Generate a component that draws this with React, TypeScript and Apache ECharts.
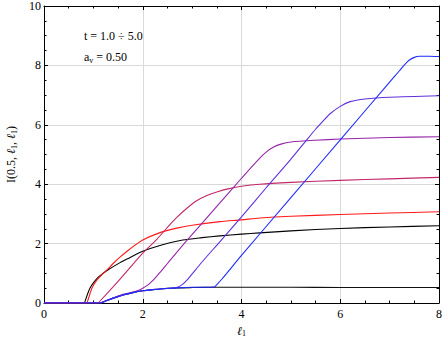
import React, { useEffect, useRef } from "react";
import * as echarts from "echarts";

type Pt = [number, number];

const xTicks = { min: 0, max: 8, interval: 2 };
const yTicks = { min: 0, max: 10, interval: 2 };

const blackLower: Pt[] = [
  [0, 0], [1.15, 0], [1.16, 0], [1.3, 0.1], [1.45, 0.19], [1.6, 0.27], [1.8, 0.35], [2.0, 0.41],
  [2.2, 0.45], [2.4, 0.48], [2.7, 0.51], [3.0, 0.52], [3.5, 0.53], [4, 0.53], [5, 0.53],
  [6, 0.52], [7, 0.52], [8, 0.52],
];
const blackUpper: Pt[] = [
  [0, 0], [0.82, 0], [0.83, 0], [0.86, 0.2], [0.9, 0.38], [0.93, 0.5], [1.0, 0.68], [1.1, 0.87],
  [1.2, 1.0], [1.3, 1.12], [1.54, 1.36], [1.68, 1.48], [2.0, 1.74], [2.4, 1.96], [2.81, 2.12],
  [3.2, 2.2], [3.56, 2.26], [4.0, 2.32], [4.37, 2.36], [5, 2.43], [6, 2.51], [7, 2.56], [8, 2.6],
];
const red: Pt[] = [
  [0, 0], [0.87, 0], [0.88, 0], [0.92, 0.25], [0.97, 0.5], [1.07, 0.77], [1.17, 0.95],
  [1.27, 1.11], [1.4, 1.33], [1.55, 1.56], [1.74, 1.82], [2.0, 2.12], [2.35, 2.37],
  [2.69, 2.52], [3.0, 2.62], [3.56, 2.74], [4.0, 2.8], [4.37, 2.86], [5, 2.92], [6, 2.98],
  [7, 3.03], [8, 3.07],
];
const crimson: Pt[] = [
  [0, 0], [1.09, 0], [1.1, 0], [1.5, 0.73], [2.0, 1.68], [2.29, 2.15], [2.5, 2.55], [2.7, 2.9],
  [2.9, 3.2], [3.1, 3.45], [3.3, 3.62], [3.5, 3.74], [3.75, 3.85], [4.0, 3.93], [4.37, 4.0],
  [5, 4.06], [6, 4.13], [7, 4.18], [8, 4.23],
];
const purple: Pt[] = [
  [0, 0], [1.15, 0], [1.16, 0], [1.3, 0.1], [1.45, 0.2], [1.6, 0.29], [1.8, 0.37], [1.9, 0.42],
  [2.0, 0.5], [2.1, 0.6], [2.2, 0.75], [2.35, 1.03], [2.5, 1.33], [2.89, 2.1], [3.5, 3.25],
  [4.0, 4.2], [4.37, 4.88], [4.5, 5.08], [4.65, 5.25], [4.8, 5.35], [5.0, 5.42], [5.5, 5.48],
  [6, 5.52], [7, 5.57], [8, 5.6],
];
const violet: Pt[] = [
  [0, 0], [1.15, 0], [1.16, 0], [1.3, 0.1], [1.45, 0.19], [1.6, 0.27], [1.8, 0.35], [2.0, 0.41],
  [2.2, 0.45], [2.4, 0.48], [2.6, 0.5], [2.7, 0.53], [2.8, 0.62], [2.9, 0.78], [3.0, 0.98],
  [3.2, 1.38], [3.56, 2.06], [4.0, 2.9], [4.5, 3.88], [4.98, 4.8], [5.32, 5.49], [5.5, 5.85],
  [5.65, 6.12], [5.8, 6.38], [6.0, 6.62], [6.2, 6.78], [6.5, 6.87], [7, 6.93], [8, 6.98],
];
const blue: Pt[] = [
  [0, 0], [1.15, 0], [1.16, 0], [1.3, 0.1], [1.45, 0.19], [1.6, 0.27], [1.8, 0.35], [2.0, 0.41],
  [2.2, 0.45], [2.4, 0.48], [2.7, 0.51], [3.0, 0.53], [3.45, 0.54], [3.5, 0.62], [3.6, 0.8],
  [4.0, 1.6], [5.0, 3.55], [6.0, 5.49], [7.0, 7.44], [7.2, 7.82], [7.3, 8.02], [7.4, 8.18],
  [7.5, 8.27], [7.6, 8.31], [7.8, 8.31], [8, 8.3],
];

const seriesList: { name: string; data: Pt[]; color: string }[] = [
  { name: "lower", data: blackLower, color: "#111111" },
  { name: "t1", data: blackUpper, color: "#000000" },
  { name: "t2", data: red, color: "#ff1a1a" },
  { name: "t3", data: crimson, color: "#c22868" },
  { name: "t4", data: purple, color: "#9526a8" },
  { name: "t5", data: violet, color: "#6030dc" },
  { name: "t6", data: blue, color: "#1f2bff" },
];

const FONT = '"Liberation Serif", "DejaVu Serif", serif';

export default function App() {
  const ref = useRef<HTMLDivElement>(null);
  useEffect(() => {
    if (!ref.current) return;
    const chart = echarts.init(ref.current, undefined, { renderer: "svg" });
    const labelStyle = { color: "#000", fontFamily: FONT, fontSize: 12 };
    const baseAxis = (extra: any) => ({
      axisLine: { show: true, onZero: false, lineStyle: { color: "#000", width: 1 } },
      axisTick: { show: true, inside: true, length: 4, lineStyle: { color: "#000" } },
      minorTick: { show: true, splitNumber: 4, length: 2.5, lineStyle: { color: "#000" } },
      ...extra,
    });
    chart.setOption({
      animation: false,
      grid: { left: 44, right: 4, top: 6, bottom: 34, containLabel: false, outerBoundsMode: "none" },
      xAxis: [
        baseAxis({
          type: "value", position: "bottom", ...xTicks,
          axisLabel: { ...labelStyle, margin: 5 },
          splitLine: { show: true, lineStyle: { color: "#d9d9d9", width: 1 } },
          name: "{i|ℓ}{s|1}",
          nameLocation: "middle",
          nameGap: 20,
          nameTextStyle: {
            rich: {
              i: { fontFamily: FONT, fontSize: 12, fontStyle: "italic", color: "#000" },
              s: { fontFamily: FONT, fontSize: 8, color: "#000", verticalAlign: "bottom", padding: [6, 0, 0, 0] },
            },
          },
        }),
        baseAxis({
          type: "value", position: "top", ...xTicks,
          axisLabel: { show: false },
          splitLine: { show: false },
        }),
      ],
      yAxis: [
        baseAxis({
          type: "value", position: "left", ...yTicks,
          axisLabel: { ...labelStyle, margin: 3 },
          splitLine: { show: true, lineStyle: { color: "#d9d9d9", width: 1 } },
          name: "{n|I(0.5, }{i|ℓ}{s|1}{n|, }{i|ℓ}{s|1}{n|)}",
          nameLocation: "middle",
          nameGap: 26,
          nameTextStyle: {
            rich: {
              n: { fontFamily: FONT, fontSize: 12, color: "#000" },
              i: { fontFamily: FONT, fontSize: 12, fontStyle: "italic", color: "#000" },
              s: { fontFamily: FONT, fontSize: 8, color: "#000", padding: [6, 0, 0, 0] },
            },
          },
        }),
        baseAxis({
          type: "value", position: "right", ...yTicks,
          axisLabel: { show: false },
          splitLine: { show: false },
        }),
      ],
      graphic: [
        {
          type: "text", left: 84, top: 30,
          style: { text: "t = 1.0 ÷ 5.0", font: `12px ${FONT}`, fill: "#000" },
        },
        {
          type: "text", left: 84, top: 51,
          style: {
            text: "{a|a}{s|v}{a| = 0.50}",
            rich: {
              a: { fontFamily: FONT, fontSize: 12, fill: "#000" },
              s: { fontFamily: FONT, fontSize: 8, fill: "#000", padding: [6, 0, 0, 0] },
            },
          },
        },
      ],
      series: seriesList.map((s) => ({
        name: s.name,
        type: "line",
        xAxisIndex: 0,
        yAxisIndex: 0,
        data: s.data,
        showSymbol: false,
        smooth: 0.25,
        clip: true,
        lineStyle: { color: s.color, width: 1.1 },
        itemStyle: { color: s.color },
      })),
    });
    return () => chart.dispose();
  }, []);
  return (
    <div
      ref={ref}
      style={{ position: "absolute", left: 0, top: 0, width: 443, height: 337, background: "#fff" }}
    />
  );
}
